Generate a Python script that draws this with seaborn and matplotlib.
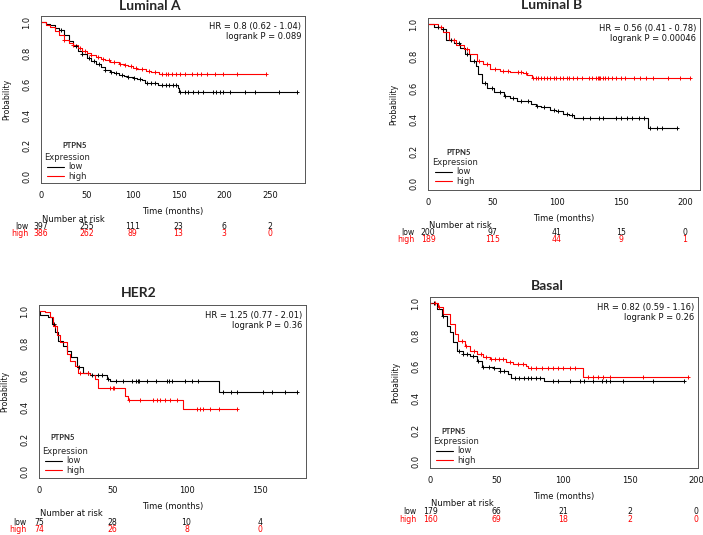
import matplotlib
matplotlib.use("Agg")
import matplotlib.pyplot as plt
import matplotlib.transforms as mtransforms
import numpy as np
import seaborn as sns

# ---- data (Kaplan-Meier step knots, censor times, risk table) ----
lumA_low_t = [0, 5, 10, 15, 20, 25, 30, 35, 40, 45, 50, 55, 60, 65, 70, 75, 80, 85, 90, 95,
              100, 105, 110, 113, 128, 149, 151]
lumA_low_s = [1.0, .99, .98, .965, .95, .92, .88, .845, .815, .795, .77, .75, .73, .71, .69, .68,
              .67, .66, .655, .645, .64, .635, .625, .605, .595, .575, .548]
lumA_low_end = 279
lumA_low_cens = [22, 38, 45, 52, 58, 63, 70, 76, 82, 88, 95, 101, 108, 116, 120, 124, 132, 136,
                 140, 144, 147, 152, 157, 160, 166, 171, 177, 188, 191, 195, 199, 206, 222, 233,
                 260, 279]
lumA_high_t = [0, 5, 10, 15, 20, 25, 30, 35, 40, 45, 50, 55, 60, 65, 70, 75, 80, 85, 90, 95,
               100, 105, 110, 115, 120, 125, 129]
lumA_high_s = [1.0, .985, .97, .945, .915, .885, .865, .85, .835, .815, .80, .79, .775, .765,
               .755, .745, .74, .73, .725, .715, .705, .70, .695, .685, .68, .675, .662]
lumA_high_end = 245
lumA_high_cens = [25, 35, 42, 48, 55, 62, 68, 74, 80, 86, 92, 98, 104, 110, 118, 124, 132, 136,
                  139, 143, 147, 152, 157, 165, 170, 174, 181, 190, 199, 214, 245]
lumA_risk_t = [0, 50, 100, 150, 200, 250]
lumA_risk_low = [397, 255, 111, 23, 6, 2]
lumA_risk_high = [386, 262, 89, 13, 3, 0]

lumB_low_t = [0, 5, 10, 14, 20, 25, 29, 33, 37, 39, 42, 46, 51, 59, 64, 69, 80, 84, 88, 95,
              100, 105, 110, 114, 171]
lumB_low_s = [1.0, .985, .97, .90, .88, .85, .815, .77, .74, .687, .634, .60, .577, .55, .54,
              .52, .50, .49, .48, .465, .457, .435, .428, .41, .347]
lumB_low_end = 194
lumB_low_cens = [8, 12, 18, 24, 30, 36, 44, 50, 56, 60, 66, 72, 78, 85, 90, 98, 101, 108, 112,
                 121, 126, 133, 136, 146, 150, 155, 159, 164, 168, 173, 178, 182, 194]
lumB_high_t = [0, 8, 12, 16, 22, 28, 32, 38, 43, 48, 56, 64, 74, 77, 81]
lumB_high_s = [1.0, .985, .953, .90, .868, .847, .815, .772, .75, .72, .71, .70, .694, .68, .666]
lumB_high_end = 204
lumB_high_cens = [10, 20, 30, 40, 46, 52, 58, 62, 70, 72, 76, 82, 84, 86, 88, 90, 93, 95, 98,
                  100, 103, 105, 108, 110, 113, 116, 120, 125, 128, 131, 132, 133, 134, 136,
                  138, 140, 143, 146, 150, 153, 160, 165, 170, 175, 187, 196, 204]
lumB_risk_t = [0, 50, 100, 150, 200]
lumB_risk_low = [200, 97, 41, 15, 0]
lumB_risk_high = [189, 115, 44, 9, 1]

her2_low_t = [0, 1, 6, 8.6, 11, 13, 16.5, 19, 22, 25.6, 30, 34.6, 41.4, 46, 48, 122]
her2_low_s = [1.0, .975, .964, .92, .87, .818, .786, .755, .713, .65, .618, .606, .60, .58,
              .566, .497]
her2_low_end = 175
her2_low_cens = [10, 27, 33, 36, 40, 43, 47, 52, 57, 63, 66, 67, 68, 73, 79, 87, 88, 90, 99,
                 104, 108, 125, 130, 134, 152, 158, 167, 175]
her2_high_t = [0, 4, 7.5, 9.7, 12, 14.3, 18.8, 21, 24.4, 26.7, 34.6, 38, 40, 58, 60.6, 97.5]
her2_high_s = [1.0, .995, .964, .912, .85, .807, .734, .69, .66, .618, .60, .576, .524, .472,
               .444, .392]
her2_high_end = 134
her2_high_cens = [11, 28, 33, 48, 50, 51, 61, 68.5, 77.6, 80, 82, 85.5, 89, 93.4, 107, 109,
                  111.5, 116, 121.7, 134]
her2_risk_t = [0, 50, 100, 150]
her2_risk_low = [75, 28, 10, 4]
her2_risk_high = [74, 26, 8, 0]

bas_low_t = [0, 5, 8.75, 12.5, 15, 17.5, 20, 25, 30, 35, 38.75, 47.5, 52.5, 58.75, 61, 86]
bas_low_s = [1.0, .964, .92, .86, .816, .753, .70, .68, .669, .637, .595, .59, .57, .553,
             .527, .51]
bas_low_end = 191
bas_low_cens = [3, 10, 22, 25, 28, 32, 36, 40, 44, 48, 53, 56, 64, 67, 71, 74, 76, 80, 82.5,
                92.5, 96, 105, 112.5, 116, 122.5, 129, 132.5, 135, 145, 167.5, 191]
bas_high_t = [0, 6, 10, 15, 18.75, 21, 26, 30, 35, 40, 45, 57.5, 62.5, 72.5, 74, 115]
bas_high_s = [1.0, .975, .932, .869, .806, .764, .732, .70, .679, .658, .648, .627, .616,
              .606, .589, .532]
bas_high_end = 194
bas_high_cens = [4, 7, 24, 27, 33, 38, 42, 46, 49, 52, 55, 60, 66, 70, 76, 80, 84, 89, 92.5,
                 96, 100, 105, 109, 119, 122.5, 126, 130, 135, 160, 194]
bas_risk_t = [0, 50, 100, 150, 200]
bas_risk_low = [179, 66, 21, 2, 0]
bas_risk_high = [160, 69, 18, 2, 0]

titles = ["Luminal A", "Luminal B", "HER2", "Basal"]
hr_texts = ["HR = 0.8 (0.62 - 1.04)\nlogrank P = 0.089",
            "HR = 0.56 (0.41 - 0.78)\nlogrank P = 0.00046",
            "HR = 1.25 (0.77 - 2.01)\nlogrank P = 0.36",
            "HR = 0.82 (0.59 - 1.16)\nlogrank P = 0.26"]

sns.set_style("white")
plt.rcParams["font.family"] = ["DejaVu Sans"]

W, H = 703, 535
fig = plt.figure(figsize=(W / 100, H / 100), dpi=100)


def fx(x):
    return x / W


def fy(y):
    return 1 - y / H


RED = "#ff0000"
FS = 6
TFS = 5.6  # risk table font

# layout: axes box (left, top, right, bottom) px, xlim, title (cx, baseline),
# PTPN5 (left, cy), legend anchor (left, top), risk rows offset below axes
panels = [
    dict(box=(41, 16, 305, 183), xmax=288, title=(150, 10), gene=(62, 146), leg=(44, 153),
         rows=(43.5, 50.5),
         data=(lumA_low_t, lumA_low_s, lumA_low_end, lumA_low_cens,
               lumA_high_t, lumA_high_s, lumA_high_end, lumA_high_cens,
               lumA_risk_t, lumA_risk_low, lumA_risk_high)),
    dict(box=(428, 18, 700, 190), xmax=211.7, title=(552, 9), gene=(446, 152), leg=(432, 158),
         rows=(42.5, 50),
         data=(lumB_low_t, lumB_low_s, lumB_low_end, lumB_low_cens,
               lumB_high_t, lumB_high_s, lumB_high_end, lumB_high_cens,
               lumB_risk_t, lumB_risk_low, lumB_risk_high)),
    dict(box=(39, 305, 306, 478), xmax=181, title=(139, 297), gene=(50, 438), leg=(42, 447),
         rows=(44.5, 51.5),
         data=(her2_low_t, her2_low_s, her2_low_end, her2_low_cens,
               her2_high_t, her2_high_s, her2_high_end, her2_high_cens,
               her2_risk_t, her2_risk_low, her2_risk_high)),
    dict(box=(430, 297, 698, 468), xmax=201.5, title=(547, 290), gene=(441, 432), leg=(433, 437),
         rows=(43.5, 51),
         data=(bas_low_t, bas_low_s, bas_low_end, bas_low_cens,
               bas_high_t, bas_high_s, bas_high_end, bas_high_cens,
               bas_risk_t, bas_risk_low, bas_risk_high)),
]


def step_value(t, s, x):
    idx = np.searchsorted(np.asarray(t), np.asarray(x), side="right") - 1
    return np.asarray(s)[idx]


for i, p in enumerate(panels):
    l, t, r, b = p["box"]
    ax = fig.add_axes([fx(l), fy(b), (r - l) / W, (b - t) / H])
    (lt, ls, lend, lc, ht, hs, hend, hc, rt, rlow, rhigh) = p["data"]

    handles = []
    for tt, ss, end, cens, col, lab in [(lt, ls, lend, lc, "black", "low"),
                                         (ht, hs, hend, hc, RED, "high")]:
        sns.lineplot(x=list(tt) + [end], y=list(ss) + [ss[-1]], ax=ax, color=col,
                     drawstyle="steps-post", linewidth=0.8, estimator=None, sort=False,
                     label=lab)
        handles.append(ax.lines[-1])
        sns.scatterplot(x=cens, y=step_value(tt, ss, cens), ax=ax, marker="+", s=10,
                        color=col, linewidth=0.7, zorder=3)

    ax.set_xlim(0, p["xmax"])
    ax.set_ylim(-0.04, 1.04)
    ax.set_xticks(rt)
    ax.set_yticks([0, 0.2, 0.4, 0.6, 0.8, 1.0])
    ax.set_yticklabels([f"{v:.1f}" for v in [0, 0.2, 0.4, 0.6, 0.8, 1.0]], rotation=90,
                       va="center")
    ax.tick_params(axis="both", direction="out", length=2.5, width=0.6, labelsize=FS,
                   color="#333333", labelcolor="#111111")
    ax.tick_params(axis="x", pad=3.5)
    ax.tick_params(axis="y", pad=4.5)
    for sp in ax.spines.values():
        sp.set_color("#555555")
        sp.set_linewidth(0.7)
    ax.set_xlabel("")
    ax.set_ylabel("")

    ax.text(0.985, 0.965, hr_texts[i], transform=ax.transAxes, ha="right", va="top",
            fontsize=FS, linespacing=1.1, color="#111111")

    leg = ax.legend(handles, ["low", "high"], title="Expression", loc="upper left",
                    bbox_to_anchor=(fx(p["leg"][0]), fy(p["leg"][1])),
                    bbox_transform=fig.transFigure, frameon=False, fontsize=FS,
                    title_fontsize=FS, borderpad=0, borderaxespad=0, handlelength=2.0,
                    handletextpad=0.6, labelspacing=0.05)
    for line in leg.get_lines():
        line.set_linewidth(0.8)

    fig.text(fx(p["gene"][0]), fy(p["gene"][1]), "PTPN5", fontsize=5.5, fontweight="bold",
             family="Lato", ha="left", va="center")
    fig.text(fx(p["title"][0]), fy(p["title"][1]), titles[i], fontsize=10, fontweight="bold",
             family="Lato", ha="center", va="baseline")

    # axis labels and number at risk table
    fig.text(fx((l + r) / 2), fy(b + 28), "Time (months)", fontsize=FS, ha="center",
             va="center", color="#111111")
    fig.text(fx(l - 34), fy((t + b) / 2), "Probability", fontsize=FS - 0.5, rotation=90,
             ha="center", va="center", color="#111111")
    fig.text(fx(l + 1), fy(b + 36), "Number at risk", fontsize=FS, ha="left", va="center",
             color="#111111")
    tr = mtransforms.blended_transform_factory(ax.transData, fig.transFigure)
    row_low, row_high = p["rows"]
    fig.text(fx(l - 13), fy(b + row_low), "low", fontsize=TFS, ha="right", va="center",
             color="#111111")
    fig.text(fx(l - 13), fy(b + row_high), "high", fontsize=TFS, ha="right", va="center",
             color=RED)
    for xv, nl, nh in zip(rt, rlow, rhigh):
        ax.text(xv, fy(b + row_low), str(nl), transform=tr, fontsize=TFS, ha="center",
                va="center", color="#111111", clip_on=False)
        ax.text(xv, fy(b + row_high), str(nh), transform=tr, fontsize=TFS, ha="center",
                va="center", color=RED, clip_on=False)

fig.savefig("out.png", dpi=100)
